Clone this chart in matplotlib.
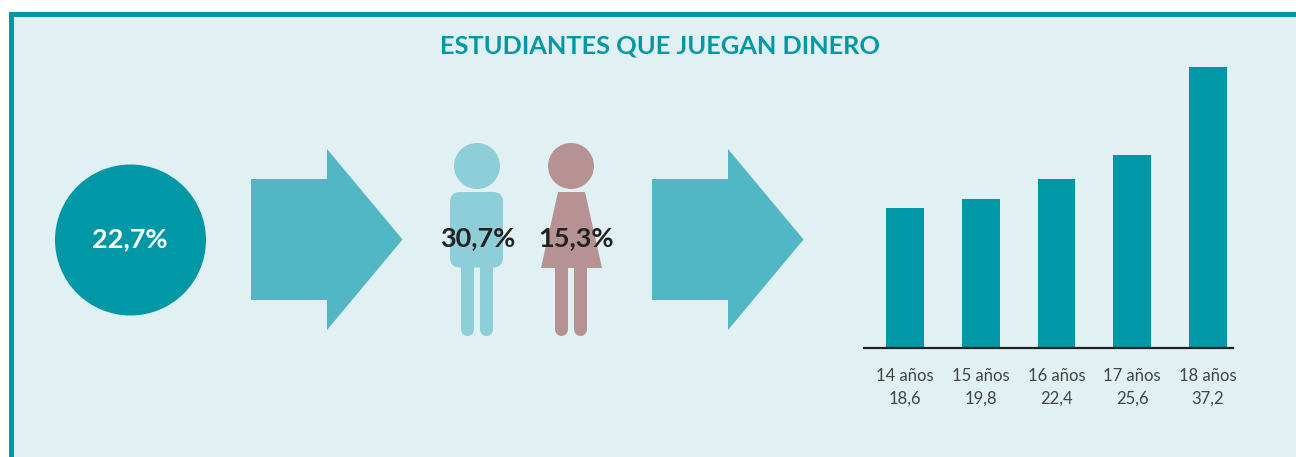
import matplotlib
matplotlib.use('Agg')
import matplotlib.pyplot as plt
from matplotlib.patches import Circle, Polygon, Rectangle, FancyBboxPatch

# data
edades = ['14 años', '15 años', '16 años', '17 años', '18 años']
valores = [18.6, 19.8, 22.4, 25.6, 37.2]
total = '22,7%'
chicos = '30,7%'
chicas = '15,3%'
titulo = 'ESTUDIANTES QUE JUEGAN DINERO'

TEAL = '#0097a7'
ARROW = '#52b7c4'
BG = '#e0f0f3'
MALE = '#8dced9'
FEMALE = '#b69295'
DARK = '#222222'
W, H = 1296, 457

plt.rcParams['font.family'] = ['Lato', 'DejaVu Sans']

fig = plt.figure(figsize=(W / 100, H / 100), dpi=100, facecolor='white')

# background axes in pixel coordinates for the infographic parts
ax = fig.add_axes([0, 0, 1, 1])
ax.set_xlim(0, W)
ax.set_ylim(H, 0)
ax.axis('off')

ax.add_patch(Rectangle((9, 12), W, H, fc=TEAL, ec='none'))
ax.add_patch(Rectangle((14, 17), W, H, fc=BG, ec='none'))

ax.text(660, 46, titulo, color=TEAL, fontsize=18.3, fontweight='bold',
        ha='center', va='center')

# circle with the total
ax.add_patch(Circle((130.5, 240), 75.5, fc=TEAL, ec='none'))
ax.text(130, 239, total, color='white', fontsize=19.5, fontweight='bold',
        ha='center', va='center')


def arrow(x0):
    pts = [(x0, 179), (x0 + 76, 179), (x0 + 76, 149), (x0 + 151.5, 239.5),
           (x0 + 76, 330), (x0 + 76, 300), (x0, 300)]
    ax.add_patch(Polygon(pts, closed=True, fc=ARROW, ec='none'))


arrow(251)
arrow(652)


def leg(xc, color):
    # 13 px wide leg with a round foot
    ax.plot([xc, xc], [262, 329], color=color, lw=13 * 0.72,
            solid_capstyle='round')


# boy
ax.add_patch(Circle((477, 166), 23, fc=MALE, ec='none'))
ax.add_patch(FancyBboxPatch((460, 202), 33, 55.5, boxstyle='round,pad=10',
                            fc=MALE, ec='none'))
leg(467, MALE)
leg(486, MALE)

# girl
ax.add_patch(Circle((571, 166), 23, fc=FEMALE, ec='none'))
ax.add_patch(Polygon([(558, 192), (585, 192), (602, 268), (541, 268)],
                     closed=True, fc=FEMALE, ec='none'))
leg(561, FEMALE)
leg(580, FEMALE)

ax.text(478, 238, chicos, color=DARK, fontsize=19.5, fontweight='bold',
        ha='center', va='center')
ax.text(576, 238, chicas, color=DARK, fontsize=19.5, fontweight='bold',
        ha='center', va='center')

# bar chart, axes placed to line up with the reference pixels
px_unit = 7.55
top, base, left, right = 60, 348, 864, 1233
bx = fig.add_axes([left / W, 1 - base / H, (right - left) / W, (base - top) / H])
bx.patch.set_alpha(0)
pos = list(range(len(valores)))
bx.bar(pos, valores, width=0.5, color=TEAL)
bx.set_xlim((left - 905) / 75.75, (right - 905) / 75.75)
bx.set_ylim(0, (base - top) / px_unit)
for s in ['top', 'left', 'right']:
    bx.spines[s].set_visible(False)
bx.spines['bottom'].set_color(DARK)
bx.spines['bottom'].set_linewidth(1.6)
bx.set_yticks([])
bx.set_xticks(pos)
bx.set_xticklabels([f'{e}\n{str(v).replace(".", ",")}' for e, v in zip(edades, valores)],
                   fontsize=12, color='#444444', linespacing=1.5)
bx.tick_params(axis='x', length=0, pad=14.5)

fig.savefig('out.png', dpi=100)
